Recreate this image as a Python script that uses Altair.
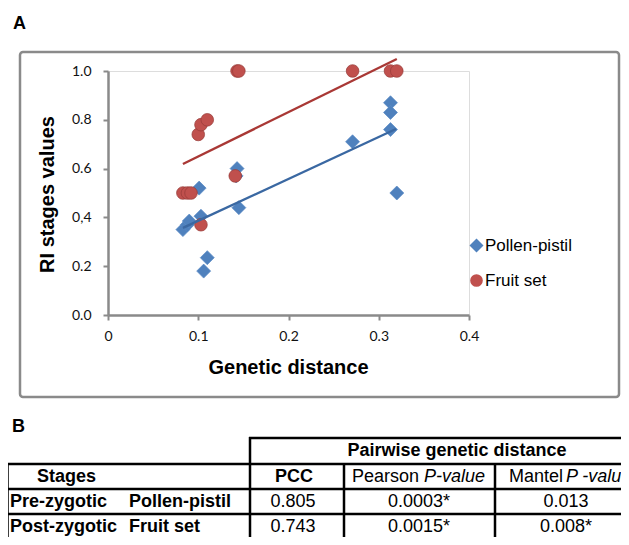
import altair as alt
import pandas as pd

# ---------------- Panel A data ----------------
series_names = ["Pollen-pistil", "Fruit set"]
pollen_x = [0.083, 0.088, 0.090, 0.101, 0.103, 0.106, 0.110, 0.142, 0.143, 0.145, 0.271, 0.313, 0.313, 0.313, 0.320]
pollen_y = [0.35, 0.37, 0.385, 0.52, 0.405, 0.18, 0.235, 0.57, 0.60, 0.44, 0.71, 0.87, 0.83, 0.76, 0.50]
fruit_x = [0.083, 0.088, 0.092, 0.103, 0.100, 0.103, 0.110, 0.141, 0.143, 0.145, 0.271, 0.313, 0.320]
fruit_y = [0.50, 0.50, 0.50, 0.37, 0.74, 0.78, 0.80, 0.57, 1.0, 1.0, 1.0, 1.0, 1.0]
pollen_trend_x = [0.083, 0.319]
pollen_trend_y = [0.357, 0.762]
fruit_trend_x = [0.083, 0.320]
fruit_trend_y = [0.619, 1.049]
x_ticks = [0, 0.1, 0.2, 0.3, 0.4]
y_ticks = [0, 0.2, 0.4, 0.6, 0.8, 1.0]

# ---------------- Panel B data ----------------
table_title = "Pairwise genetic distance"
stages_header = "Stages"
pcc_header = "PCC"
pearson_header = ["Pearson", "P-value"]
mantel_header = ["Mantel", "P -value"]
stages = ["Pre-zygotic", "Post-zygotic"]
traits = ["Pollen-pistil", "Fruit set"]
pcc = ["0.805", "0.743"]
pearson_p = ["0.0003*", "0.0015*"]
mantel_p = ["0.013", "0.008*"]
panel_labels = ["A", "B"]

# ---------------- layout (page pixels) ----------------
OX, OY = 108, 71          # plot-area origin on the page
W, H = 361, 244
BLUE, RED = "#4F81BD", "#C0504D"
BLUE_LINE, RED_LINE = "#3A68A2", "#A93835"
AXIS_GREY = "#8A8A8A"

pts = pd.DataFrame(
    {"x": pollen_x + fruit_x,
     "y": pollen_y + fruit_y,
     "series": [series_names[0]] * len(pollen_x) + [series_names[1]] * len(fruit_x)}
)
trend = pd.DataFrame(
    {"x": pollen_trend_x + fruit_trend_x,
     "y": pollen_trend_y + fruit_trend_y,
     "series": [series_names[0]] * 2 + [series_names[1]] * 2}
)

xaxis = alt.Axis(
    values=x_ticks, grid=False, labelFlush=False,
    labelExpr="datum.value == 0 ? '0' : format(datum.value, '.1f')",
    domainColor=AXIS_GREY, domainWidth=2.5, tickColor=AXIS_GREY, tickWidth=2, tickSize=5,
    labelFont="Lato", labelFontSize=14, labelColor="#111111", labelPadding=9,
    title="Genetic distance", titleFont="Liberation Sans", titleFontSize=20,
    titleFontWeight="bold", titleColor="black", titleX=180, titleY=58,
    titleAlign="center", titleBaseline="alphabetic",
)
yaxis = alt.Axis(
    values=y_ticks, grid=False, labelFlush=False,
    labelExpr="format(datum.value, '.1f') == '0.4' ? '0,4' : format(datum.value, '.1f')",
    domainColor=AXIS_GREY, domainWidth=2.5, tickColor=AXIS_GREY, tickWidth=2, tickSize=5,
    labelFont="Lato", labelFontSize=14, labelColor="#111111", labelPadding=12,
    title="RI stages values", titleFont="Liberation Sans", titleFontSize=20,
    titleFontWeight="bold", titleColor="black", titleAngle=270, titleX=-55, titleY=123,
    titleAlign="center", titleBaseline="alphabetic",
)
xs = alt.Scale(domain=[0, 0.4], nice=False)
ys = alt.Scale(domain=[0, 1], nice=False)

legend = alt.Legend(
    orient="none", legendX=360, legendY=166, title=None, padding=0,
    labelFont="Liberation Sans", labelFontSize=17, labelColor="black",
    symbolSize=110, symbolStrokeWidth=0, rowPadding=17, labelOffset=0,
)

points = alt.Chart(pts).mark_point(filled=True, opacity=1, strokeWidth=0.7).encode(
    x=alt.X("x:Q", scale=xs, axis=xaxis),
    y=alt.Y("y:Q", scale=ys, axis=yaxis),
    color=alt.Color("series:N", scale=alt.Scale(domain=series_names, range=[BLUE, RED]), legend=legend),
    shape=alt.Shape("series:N", scale=alt.Scale(domain=series_names, range=["diamond", "circle"]), legend=legend),
    stroke=alt.Stroke("series:N", scale=alt.Scale(domain=series_names, range=["#5A8BC6", "#963B38"]), legend=None),
    size=alt.Size("series:N", scale=alt.Scale(domain=series_names, range=[196, 160]), legend=None),
)

def trend_layer(name, col):
    return alt.Chart(trend).transform_filter(alt.datum.series == name).mark_line(
        color=col, strokeWidth=2.3
    ).encode(x=alt.X("x:Q", scale=xs), y=alt.Y("y:Q", scale=ys))

frame_df = pd.DataFrame({"k": [0]})
frame = alt.Chart(frame_df).mark_rect(
    fillOpacity=0, stroke=AXIS_GREY, strokeWidth=2.5, cornerRadius=3
).encode(
    x=alt.value(20 - OX), x2=alt.value(619 - OX),
    y=alt.value(52 - OY), y2=alt.value(397 - OY),
)

# ---------------- table (panel B) ----------------
R0, R1, R2, R3 = 451, 476.5, 501.5, 526.5   # row text centres
cells = []
def add(t, x, y, kind):
    cells.append({"t": t, "px": x - OX, "py": y - OY, "kind": kind})

add(panel_labels[0], 13, 29, "panel")
add(panel_labels[1], 12, 432, "panel")
add(table_title, 457, R0, "bold_c")
add(stages_header, 37, R1, "bold_l")
add(pcc_header, 294, R1, "bold_c")
add(pearson_header[0], 352, R1, "reg_l")
add(pearson_header[1], 424, R1, "ital_l")
add(mantel_header[0], 509, R1, "reg_l")
add(mantel_header[1], 566, R1, "ital_l")
for i, ry in enumerate([R2, R3]):
    add(stages[i], 10, ry, "bold_l")
    add(traits[i], 129, ry, "bold_l")
    add(pcc[i], 293, ry, "reg_c")
    add(pearson_p[i], 419, ry, "reg_c")
    add(mantel_p[i], 566, ry, "reg_c")
cells_df = pd.DataFrame(cells)

def text_layer(kind, align, weight, style, baseline="middle", size=18):
    return alt.Chart(cells_df).transform_filter(alt.datum.kind == kind).mark_text(
        align=align, baseline=baseline, font="Liberation Sans", fontSize=size,
        fontWeight=weight, fontStyle=style, color="black",
    ).encode(
        x=alt.X("px:Q", scale=None, axis=None),
        y=alt.Y("py:Q", scale=None, axis=None),
        text="t:N",
    )

lines = []
def hline(y, x1, x2):
    lines.append({"px": x1 - OX, "px2": x2 - OX, "py": y - OY, "py2": y - OY})
def vline(x, y1, y2):
    lines.append({"px": x - OX, "px2": x - OX, "py": y1 - OY, "py2": y2 - OY})

hline(438, 249, 640)
hline(464, 6.5, 640)
hline(489, 6.5, 640)
hline(514, 6.5, 640)
vline(7.5, 463, 560)
vline(250, 437, 560)
vline(344, 464, 560)
vline(495, 464, 560)
lines_df = pd.DataFrame(lines)

table_lines = alt.Chart(lines_df).mark_rule(color="black", strokeWidth=2.5).encode(
    x=alt.X("px:Q", scale=None, axis=None), x2="px2:Q",
    y=alt.Y("py:Q", scale=None, axis=None), y2="py2:Q",
)

chart = alt.layer(
    frame,
    points,
    trend_layer(series_names[0], BLUE_LINE),
    trend_layer(series_names[1], RED_LINE),
    table_lines,
    text_layer("panel", "left", "bold", "normal", baseline="alphabetic", size=18),
    text_layer("bold_c", "center", "bold", "normal"),
    text_layer("bold_l", "left", "bold", "normal"),
    text_layer("reg_c", "center", "normal", "normal"),
    text_layer("reg_l", "left", "normal", "normal"),
    text_layer("ital_l", "left", "normal", "italic"),
).properties(
    width=W, height=H,
    autosize=alt.AutoSizeParams(type="none"),
    padding={"left": OX - 8, "top": OY - 8, "right": 613 - (OX - 8) - W, "bottom": 529 - (OY - 8) - H},
).configure_view(strokeWidth=0).configure(background="white")

chart.save("out.html", embed_options={"renderer": "svg", "actions": False})
